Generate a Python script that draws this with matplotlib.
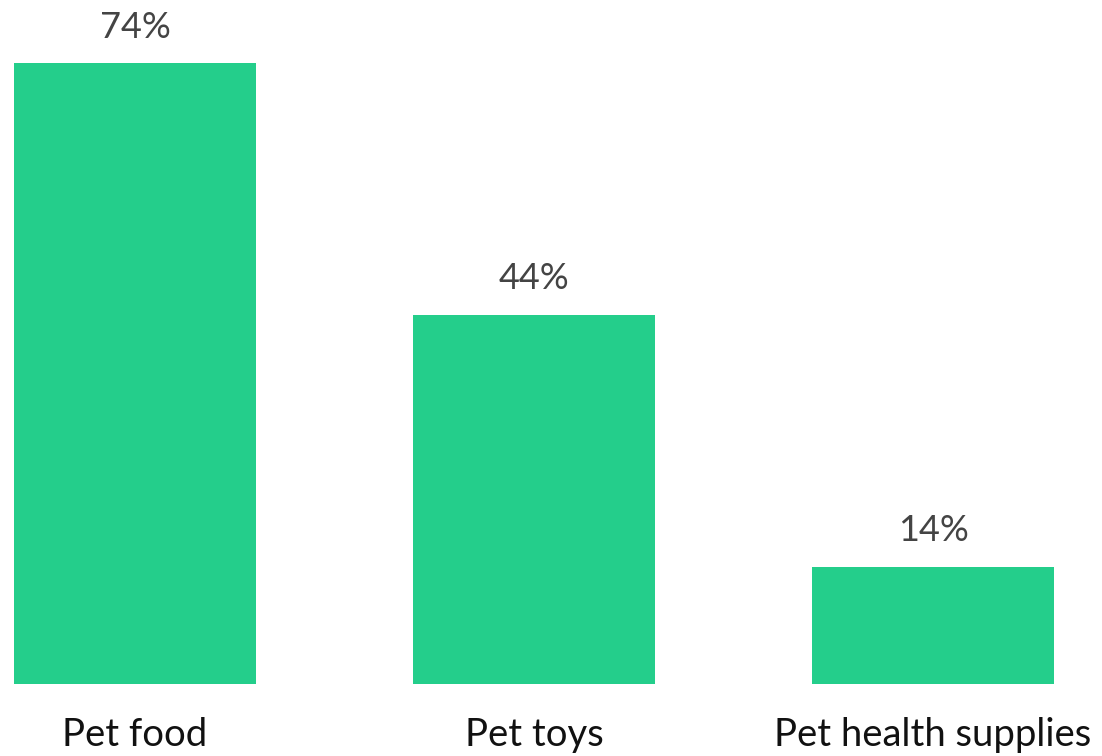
import matplotlib.pyplot as plt

# share of respondents buying each pet product category
categories = ["Pet food", "Pet toys", "Pet health supplies"]
shares = [74, 44, 14]

BAR_COLOR = "#24CE8B"
BAR_WIDTH = 0.6065

fig = plt.figure(figsize=(11.02, 7.56), dpi=100)
W, H = 1102, 756
# axes spans the bar area: left edge of first bar to right edge of last, baseline to tallest bar
ax = fig.add_axes([14 / W, (H - 684) / H, (1054 - 14) / W, (684 - 63) / H])

x = range(len(categories))
bars = ax.bar(x, shares, width=BAR_WIDTH, color=BAR_COLOR)
ax.set_xlim(-BAR_WIDTH / 2, len(categories) - 1 + BAR_WIDTH / 2)
ax.set_ylim(0, max(shares))

for rect, val in zip(bars, shares):
    ax.annotate(f"{val}%", (rect.get_x() + rect.get_width() / 2, val),
                xytext=(0, 14), textcoords="offset points",
                ha="center", va="bottom", fontsize=26, family="Lato",
                color="#444444", annotation_clip=False)

ax.set_xticks(list(x))
ax.set_xticklabels(categories, fontsize=27.5, family="Lato", color="#111111")
ax.tick_params(axis="x", length=0, pad=24)
ax.set_yticks([])
for spine in ax.spines.values():
    spine.set_visible(False)

fig.savefig("out.png", dpi=100)
